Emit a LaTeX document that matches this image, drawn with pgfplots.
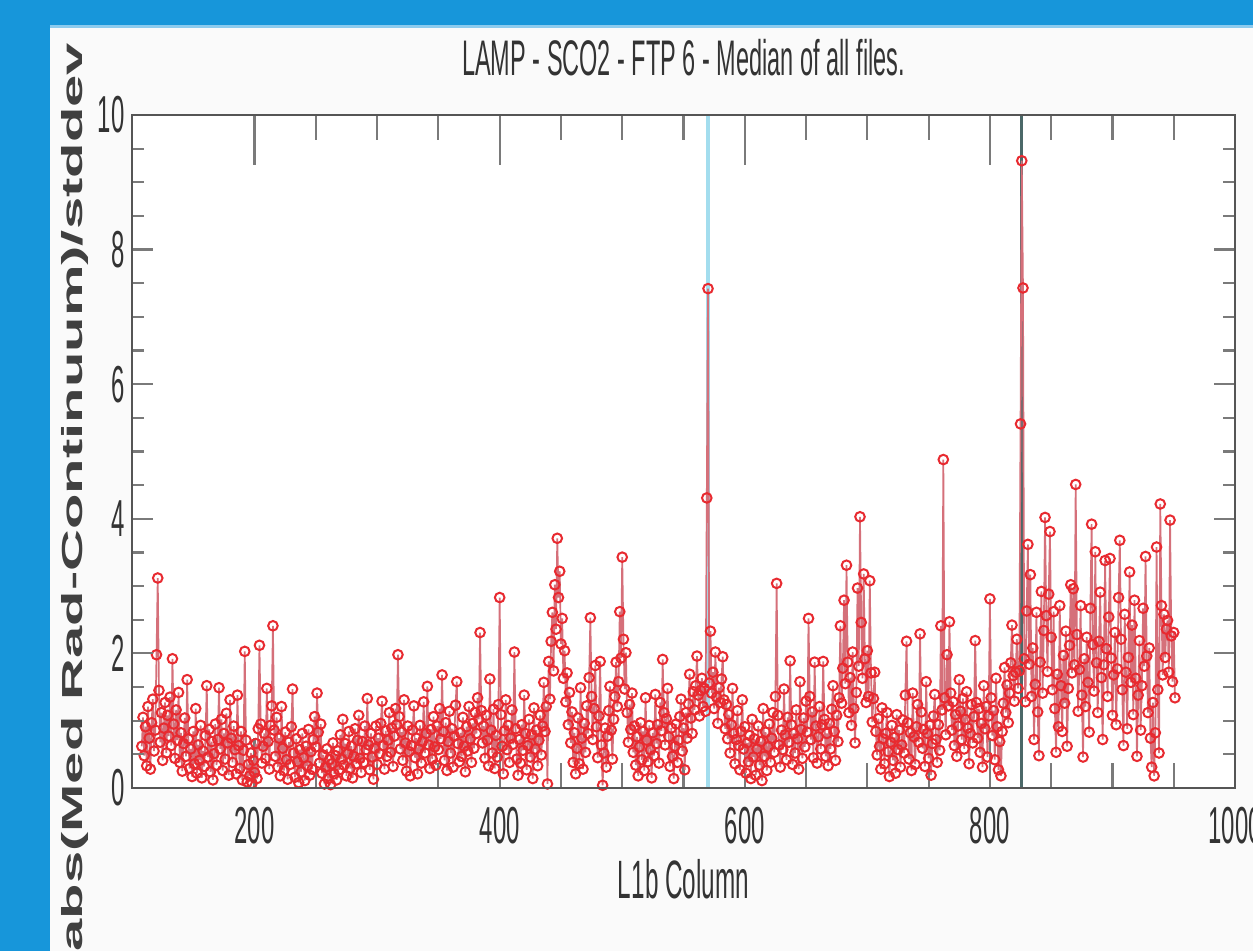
\documentclass[border=0pt]{standalone}
\usepackage{fontspec}
\setmainfont{Liberation Sans}
\usepackage{graphicx}
\usepackage{pgfplots}
\usepackage{pgfplotstable}
\pgfplotsset{compat=1.18}
\definecolor{FrameBlue}{HTML}{1796DA}
\definecolor{FrameEdge}{HTML}{8CCBEE}
\definecolor{PageBg}{HTML}{FAFAFA}
\definecolor{AxisGray}{HTML}{555555}
\definecolor{TickGray}{HTML}{7A7A7A}
\definecolor{SpecRed}{HTML}{E82A30}
\definecolor{StemGray}{HTML}{D5707A}
\definecolor{MarkCyan}{HTML}{A3DDEE}
\definecolor{MarkSlate}{HTML}{4B6868}

% median |rad - continuum| / stddev, one value per L1b column, columns 108..951
\pgfplotstableread[row sep=\\]{
v\\
0.62\\1.05\\0.48\\0.91\\0.33\\1.21\\0.74\\0.28\\0.97\\1.32\\0.55\\0.86\\1.98\\3.12\\1.45\\0.68\\1.12\\0.41\\0.89\\1.27\\
0.52\\1.08\\0.77\\1.35\\0.63\\1.92\\0.95\\0.44\\1.16\\0.71\\1.42\\0.38\\0.82\\0.25\\0.66\\1.04\\0.47\\1.61\\0.73\\0.29\\
0.58\\0.17\\0.84\\0.36\\1.18\\0.22\\0.64\\0.41\\0.93\\0.15\\0.55\\0.32\\0.78\\1.52\\0.46\\0.87\\0.24\\0.69\\0.12\\0.51\\
0.95\\0.34\\0.72\\1.49\\0.58\\1.02\\0.26\\0.81\\0.43\\1.11\\0.67\\0.19\\1.31\\0.74\\0.38\\0.92\\0.57\\0.21\\1.38\\0.63\\
0.29\\0.84\\0.12\\0.56\\2.03\\0.71\\0.09\\0.35\\0.18\\0.52\\0.07\\0.41\\0.23\\0.66\\0.14\\0.88\\2.12\\0.95\\0.37\\0.62\\
0.81\\0.44\\1.48\\0.69\\0.28\\0.93\\1.22\\2.41\\0.86\\0.47\\1.05\\0.31\\0.74\\0.18\\1.21\\0.59\\0.26\\0.83\\0.42\\0.13\\
0.68\\0.35\\0.91\\1.47\\0.52\\0.16\\0.73\\0.39\\0.08\\0.57\\0.24\\0.81\\0.45\\0.11\\0.62\\0.33\\0.87\\0.19\\0.54\\0.28\\
0.72\\1.06\\0.61\\1.41\\0.83\\0.37\\0.95\\0.22\\0.49\\0.06\\0.31\\0.58\\0.14\\0.42\\0.05\\0.36\\0.67\\0.21\\0.48\\0.12\\
0.55\\0.27\\0.79\\0.43\\1.02\\0.34\\0.66\\0.18\\0.51\\0.84\\0.29\\0.62\\0.15\\0.47\\0.88\\0.36\\0.71\\1.08\\0.44\\0.23\\
0.69\\0.38\\0.92\\0.57\\1.33\\0.64\\0.27\\0.81\\0.46\\0.13\\0.59\\0.92\\0.35\\0.74\\0.51\\0.96\\1.29\\0.63\\0.28\\0.85\\
0.47\\0.71\\1.12\\0.53\\0.89\\0.32\\0.77\\1.18\\0.94\\1.98\\1.06\\0.58\\0.83\\0.41\\1.31\\0.67\\0.25\\0.92\\0.54\\0.18\\
0.63\\0.86\\1.22\\0.45\\0.74\\0.21\\0.58\\0.93\\0.37\\0.69\\1.28\\0.52\\0.81\\1.51\\0.64\\0.29\\0.87\\0.43\\1.06\\0.61\\
0.34\\0.92\\0.57\\1.18\\0.73\\1.68\\0.84\\0.41\\0.97\\0.26\\0.69\\1.14\\0.52\\0.88\\0.31\\0.77\\1.23\\1.58\\0.66\\0.39\\
0.82\\0.47\\1.05\\0.62\\0.24\\0.91\\0.55\\1.21\\0.73\\0.38\\0.96\\0.59\\1.12\\0.81\\1.34\\1.02\\2.31\\1.15\\0.67\\0.92\\
0.44\\1.08\\0.71\\0.33\\1.62\\0.86\\0.52\\1.17\\0.29\\0.78\\0.46\\1.24\\2.83\\1.09\\0.62\\0.21\\0.85\\1.31\\0.57\\0.93\\
0.38\\0.74\\1.16\\0.65\\2.02\\0.88\\0.43\\0.19\\0.72\\0.37\\0.94\\0.56\\1.38\\0.81\\0.27\\0.63\\1.02\\0.46\\0.79\\0.14\\
1.19\\0.58\\0.86\\0.33\\0.71\\1.08\\0.49\\0.92\\1.57\\0.84\\1.21\\0.06\\1.88\\1.32\\2.18\\2.61\\1.74\\3.02\\2.36\\3.71\\
2.83\\3.22\\2.14\\2.52\\1.63\\2.04\\1.28\\1.71\\0.94\\1.42\\0.67\\1.13\\0.38\\0.82\\0.21\\0.59\\1.04\\0.36\\1.49\\0.74\\
0.28\\0.96\\0.53\\1.22\\0.81\\1.64\\2.53\\1.36\\0.72\\1.18\\1.82\\0.91\\0.45\\1.07\\1.88\\0.64\\0.04\\0.52\\0.89\\0.31\\
0.77\\1.15\\1.51\\0.86\\0.43\\1.02\\1.36\\1.87\\1.21\\1.58\\2.62\\1.93\\3.43\\2.21\\1.47\\2.01\\1.12\\0.68\\1.24\\0.87\\
1.41\\0.53\\0.92\\0.34\\0.76\\0.18\\0.61\\0.97\\0.42\\0.84\\0.26\\1.34\\0.71\\0.39\\0.93\\0.57\\0.15\\0.82\\0.48\\1.39\\
0.66\\0.94\\0.37\\1.27\\0.85\\1.91\\1.12\\0.64\\1.03\\1.48\\0.76\\0.32\\0.89\\0.47\\0.14\\0.62\\0.95\\0.38\\0.71\\1.06\\
1.32\\0.55\\0.89\\0.27\\1.12\\0.74\\1.25\\1.69\\1.04\\0.81\\1.43\\1.16\\1.52\\1.96\\1.38\\1.07\\1.45\\1.63\\1.21\\1.48\\
1.14\\4.31\\7.42\\1.56\\2.33\\1.41\\1.72\\1.18\\2.02\\1.35\\0.96\\1.49\\1.27\\1.62\\1.95\\1.31\\0.88\\1.24\\0.73\\1.09\\
0.52\\0.94\\1.48\\0.81\\0.36\\0.72\\1.15\\0.63\\0.27\\0.84\\1.31\\0.58\\0.91\\0.22\\0.67\\0.39\\0.78\\0.14\\1.02\\0.46\\
0.73\\0.19\\0.58\\0.92\\0.34\\0.69\\0.11\\1.18\\0.47\\0.83\\0.26\\0.61\\0.95\\0.38\\0.74\\1.12\\0.53\\1.36\\3.04\\1.08\\
0.64\\0.31\\0.86\\0.57\\1.47\\0.79\\0.42\\1.05\\0.68\\1.89\\0.94\\0.35\\0.81\\0.52\\1.16\\0.73\\0.28\\1.58\\0.87\\0.44\\
1.04\\0.61\\1.29\\0.83\\2.52\\1.36\\0.72\\1.13\\0.45\\1.87\\0.92\\0.37\\0.76\\1.21\\0.58\\0.94\\1.88\\1.02\\0.47\\0.81\\
0.33\\0.96\\0.58\\1.17\\1.52\\0.84\\0.41\\1.08\\0.69\\1.34\\2.41\\1.26\\1.78\\2.79\\1.55\\3.31\\1.87\\1.12\\1.64\\0.93\\
2.02\\1.18\\0.67\\1.42\\2.97\\1.81\\4.03\\2.46\\1.63\\3.18\\1.92\\1.27\\2.04\\1.36\\3.08\\1.71\\0.98\\1.33\\1.72\\0.84\\
0.49\\1.03\\0.62\\0.28\\1.19\\0.73\\0.36\\0.81\\1.12\\0.54\\0.17\\0.68\\0.93\\0.41\\0.75\\0.22\\1.09\\0.57\\0.86\\0.31\\
0.64\\1.01\\0.52\\1.38\\2.18\\0.97\\0.43\\0.82\\0.26\\1.41\\0.76\\0.35\\0.91\\1.24\\0.68\\2.29\\1.13\\0.59\\0.87\\0.32\\
1.58\\0.81\\0.44\\0.93\\0.19\\0.66\\1.07\\1.39\\0.72\\0.38\\0.94\\0.56\\2.41\\1.16\\4.88\\1.34\\0.79\\1.98\\1.22\\2.47\\
1.41\\0.86\\1.28\\0.63\\1.09\\0.47\\0.92\\1.61\\1.14\\0.72\\1.33\\0.58\\1.02\\1.43\\0.89\\0.36\\0.81\\1.24\\0.67\\1.06\\
2.19\\1.27\\0.74\\1.18\\0.53\\0.96\\0.31\\1.52\\0.88\\1.21\\0.46\\1.07\\2.81\\1.34\\0.78\\1.15\\0.42\\1.63\\0.91\\0.27\\
0.69\\0.18\\0.84\\1.26\\1.79\\1.12\\1.53\\0.97\\1.41\\1.86\\2.42\\1.67\\1.29\\1.72\\2.21\\1.48\\1.74\\5.41\\9.32\\7.43\\
1.92\\1.28\\2.63\\3.62\\1.84\\3.17\\1.36\\2.08\\0.72\\1.54\\2.61\\1.13\\0.48\\1.87\\2.92\\1.41\\2.34\\4.02\\2.56\\1.73\\
2.88\\3.81\\2.24\\1.46\\2.62\\1.18\\0.53\\1.69\\0.91\\2.71\\1.52\\0.84\\1.97\\1.26\\2.33\\0.62\\1.48\\2.12\\3.02\\1.71\\
2.96\\1.83\\4.51\\2.28\\1.14\\1.76\\2.71\\1.38\\0.46\\1.92\\1.21\\2.24\\1.57\\0.83\\2.67\\3.92\\2.13\\1.44\\3.51\\1.86\\
1.12\\2.18\\2.91\\1.64\\0.72\\1.83\\3.38\\2.07\\1.36\\2.54\\3.41\\1.93\\1.08\\1.68\\2.31\\0.94\\1.77\\2.83\\3.68\\2.21\\
1.46\\0.63\\2.58\\1.72\\0.88\\1.94\\3.21\\1.57\\2.42\\1.09\\2.79\\1.63\\0.47\\1.38\\2.19\\0.86\\1.52\\2.67\\1.81\\3.44\\
1.96\\1.12\\2.08\\0.74\\0.31\\1.27\\0.18\\0.82\\3.58\\1.46\\0.52\\4.22\\2.71\\1.68\\2.58\\1.94\\2.36\\2.49\\1.72\\3.98\\
2.26\\1.58\\2.31\\1.34\\
}\meddata

\pgfplotsset{
  lampbox/.style={
    at={(66pt,81.5pt)}, anchor=south west,
    scale only axis, width=551.5pt, height=336.5pt,
    xmin=100, xmax=1000, ymin=0, ymax=10,
    axis line style={AxisGray, line width=1.3pt},
    tick align=inside,
  },
}

\begin{document}
\begin{tikzpicture}
\useasboundingbox (0,0) rectangle (626.5pt,475.5pt);
\fill[PageBg] (0,0) rectangle (626.5pt,475.5pt);
\fill[FrameBlue] (0,0) rectangle (25pt,475.5pt);
\fill[FrameBlue] (0,463pt) rectangle (626.5pt,475.5pt);
\fill[FrameEdge] (25pt,461.5pt) rectangle (626.5pt,463pt);

\begin{axis}[lampbox,
  axis background/.style={fill=white},
  xtick={200,400,...,1000}, minor x tick num=3,
  ytick={0,2,...,10}, minor y tick num=3,
  major tick length=25pt, minor tick length=12.5pt,
  xtick style={TickGray, line width=1.1pt},
  ytick style={draw=none},
  every major y tick/.append style={draw=none},
  every minor y tick/.append style={draw=none},
  /pgf/number format/assume math mode=true,
  /pgf/number format/1000 sep={},
  tick label style={font=\fontsize{26}{28}\selectfont, text=black!80, inner sep=0pt},
  xticklabel={\scalebox{0.46}[1]{\pgfmathprintnumber{\tick}}},
  yticklabel={\scalebox{0.46}[1]{\pgfmathprintnumber{\tick}}},
  xticklabel style={anchor=north, yshift=-9.5pt},
  yticklabel style={anchor=east, xshift=-3.5pt},
  title={\scalebox{0.47}[1]{LAMP - SCO2 - FTP 6 - Median of all files.}},
  title style={at={(axis description cs:0.5,1)}, anchor=center, yshift=22.5pt,
    font=\fontsize{25}{27}\selectfont, text=black!80, inner sep=0pt},
  xlabel={\scalebox{0.45}[1]{L1b Column}},
  xlabel style={at={(axis description cs:0.5,0)}, anchor=center, yshift=-45.5pt,
    font=\fontsize{27}{29}\selectfont, text=black!80, inner sep=0pt},
  ylabel={\scalebox{1}[0.5]{abs(Med Rad-Continuum)/stddev}},
  every axis y label/.style={at={(axis description cs:-0.0517,0.432)}, rotate=90,
    anchor=center, inner sep=0pt, font=\bfseries\fontsize{29}{31}\selectfont, text=black!75},
]
\addplot[MarkCyan, line width=2pt] coordinates {(570,0) (570,10)};
\addplot[MarkSlate, line width=1.4pt] coordinates {(826,0) (826,10)};
\addplot[StemGray, line width=0.85pt, mark=o, mark size=2.4pt,
  mark options={SpecRed, line width=1pt}]
  table[x expr=\coordindex+108, y=v] {\meddata};
\end{axis}

% second pass only for the shorter y ticks
\begin{axis}[lampbox,
  xtick=\empty,
  ytick={0,2,...,10}, minor y tick num=3, yticklabels={},
  major tick length=10.5pt, minor tick length=6pt,
  ytick style={TickGray, line width=1.1pt},
]
\end{axis}
\end{tikzpicture}
\end{document}
